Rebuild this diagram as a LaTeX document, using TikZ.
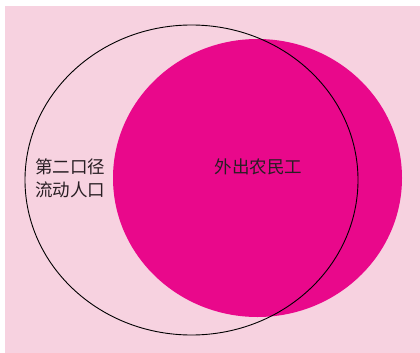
\documentclass[tikz,border=0pt]{standalone}
\usepackage{fontspec}
\newfontfamily\cjk{Noto Sans CJK SC}
\definecolor{bgpink}{RGB}{247,210,224}
\definecolor{magentafill}{RGB}{233,8,139}
\definecolor{txt}{RGB}{40,30,35}
\begin{document}
\begin{tikzpicture}[x=1pt,y=-1pt,
  lbl/.style={font=\cjk\fontsize{17.5}{22}\selectfont, text=txt, inner sep=0pt, align=center}]
\useasboundingbox (0,0) rectangle (420,353);
\fill[white] (0,0) rectangle (420,353);
\fill[bgpink] (5,6) rectangle (420,353);
\fill[magentafill] (257.5,178) ellipse [x radius=144.5, y radius=139];
\draw[black, line width=0.9pt] (191.5,180) ellipse [x radius=166.5, y radius=155];
\node[lbl] (a) at (70,178.5) {第二口径\\[1pt]流动人口};
\node[lbl] (b) at (258.5,167) {外出农民工};
\end{tikzpicture}
\end{document}
